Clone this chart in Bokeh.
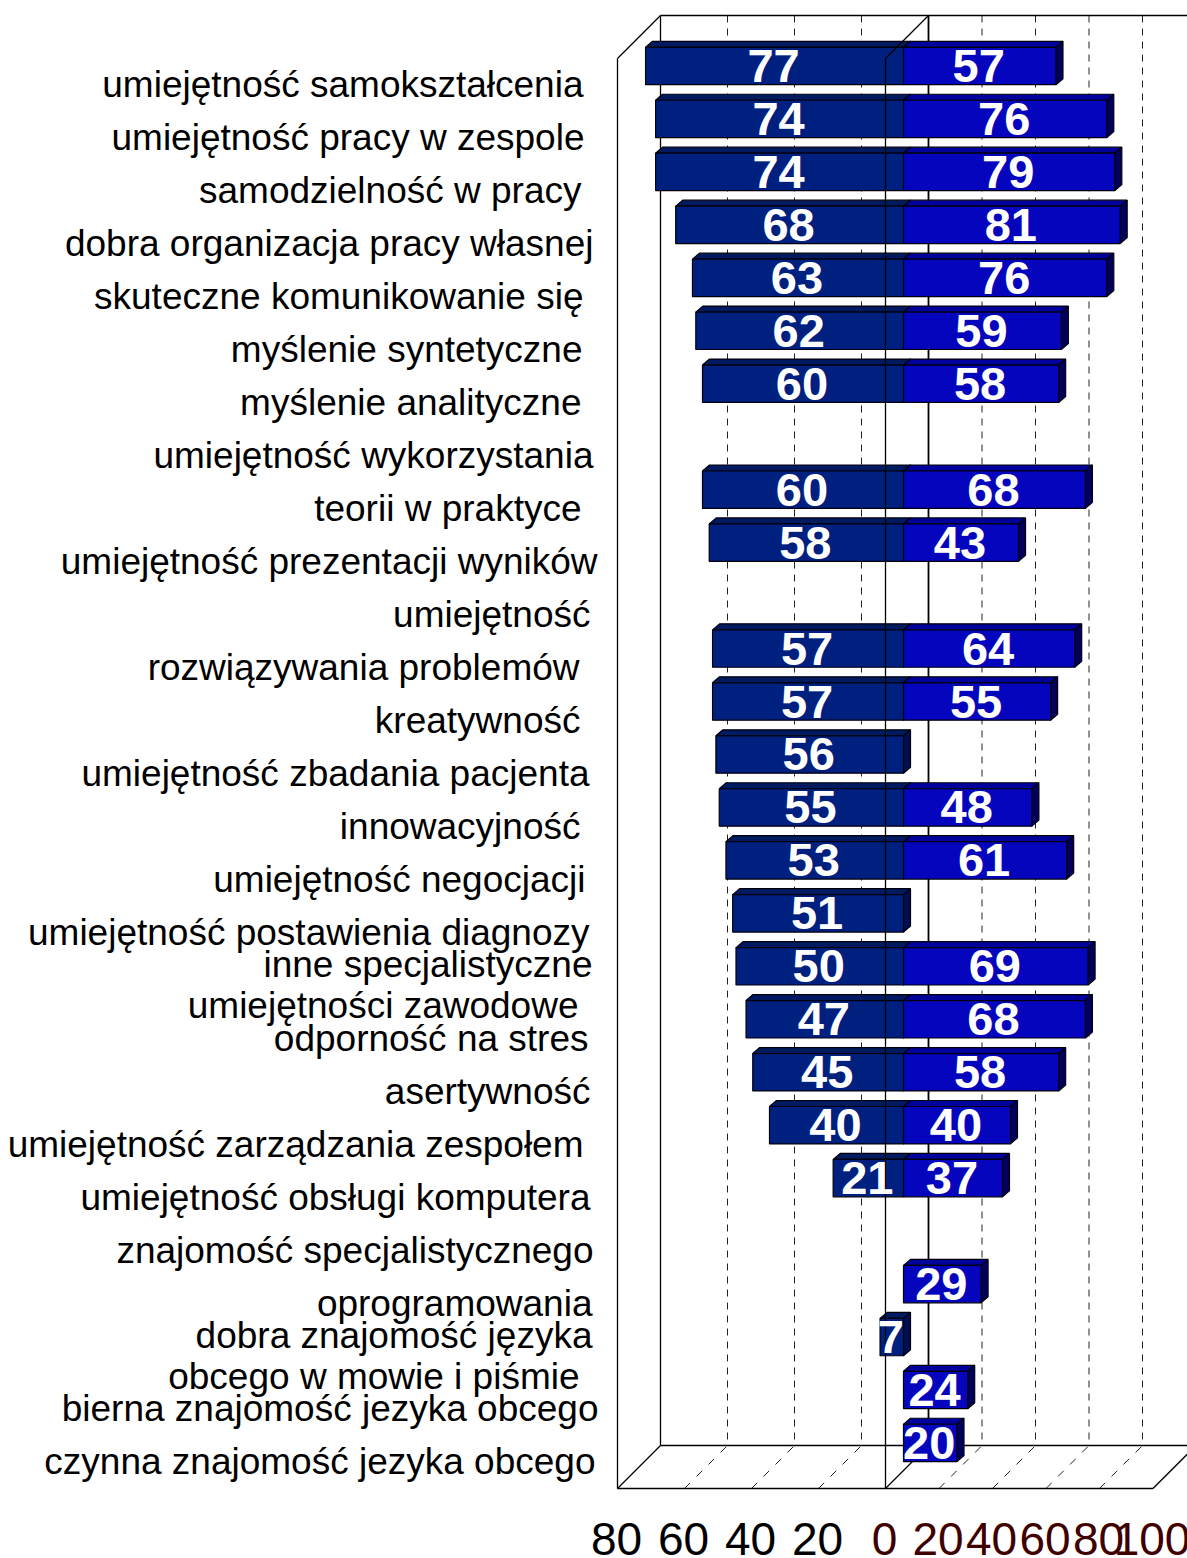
from bokeh.plotting import figure
from bokeh.models import Range1d, ColumnDataSource
from bokeh.core.properties import value
from bokeh.embed import file_html
from bokeh.resources import INLINE

# ---- data ----
series_left = [77, 74, 74, 68, 63, 62, 60, None, 60, 58, None, 57, 57, 56, 55, 53, 51, 50, 47, 45, 40, 21, None, None, 7, None, None]
series_right = [57, 76, 79, 81, 76, 59, 58, None, 68, 43, None, 64, 55, None, 48, 61, None, 69, 68, 58, 40, 37, None, 29, None, 24, 20]
ticks_left = [80, 60, 40, 20]
ticks_right = [0, 20, 40, 60, 80, 100]
label_lines = [
    "umiejętność samokształcenia", "umiejętność pracy w zespole", "samodzielność w pracy",
    "dobra organizacja pracy własnej", "skuteczne komunikowanie się", "myślenie syntetyczne",
    "myślenie analityczne", "umiejętność wykorzystania", "teorii w praktyce",
    "umiejętność prezentacji wyników", "umiejętność", "rozwiązywania problemów", "kreatywność",
    "umiejętność zbadania pacjenta", "innowacyjność", "umiejętność negocjacji",
    "umiejętność postawienia diagnozy", "inne specjalistyczne", "umiejętności zawodowe",
    "odporność na stres", "asertywność", "umiejętność zarządzania zespołem",
    "umiejętność obsługi komputera", "znajomość specjalistycznego", "oprogramowania",
    "dobra znajomość języka", "obcego w mowie i piśmie", "bierna znajomość jezyka obcego",
    "czynna znajomość jezyka obcego",
]

# ---- layout (page pixels) ----
label_right = [583, 584, 581, 593, 583, 582, 581, 593, 581, 597, 590, 579, 580, 589, 580, 585, 589, 592, 578, 588, 590, 583, 590, 593, 592, 592, 579, 598, 595]
label_y = [84, 137, 190, 243, 296, 349, 402, 455, 508, 561, 614, 667, 720, 773, 826, 879, 932, 964, 1005, 1038, 1091, 1144, 1197, 1250, 1303, 1335, 1376, 1408, 1461]
X0, X1, Y0, Y1 = 0, 1187, 0, 1558
SL, SR = 3.35, 2.675          # px per unit
BASE = 903                    # bar zero
AXIS = 885                    # front axis zero
ROW0, PITCH = 65.5, 52.96
HALF = 18.7 / PITCH
DX, DY = 7, 6                 # bar depth, px
WALL = 43                     # chart depth, px
FRONT_T, FRONT_B = 58, 1488
FONT = "Liberation Sans"

p = figure(width=X1 - X0, height=Y1 - Y0, output_backend="svg", toolbar_location=None,
           x_range=Range1d(X0, X1), y_range=Range1d(Y1, Y0), min_border=0,
           x_axis_location=None, y_axis_location=None, outline_line_color=None)
p.grid.visible = False
p.extra_x_ranges = {
    "left": Range1d((BASE - X0) / SL, (BASE - X1) / SL),
    "right": Range1d((X0 - BASE) / SR, (X1 - BASE) / SR),
    "axis_left": Range1d((AXIS - X0) / SL, (AXIS - X1) / SL),
    "axis_right": Range1d((X0 - AXIS) / SR, (X1 - AXIS) / SR),
}
p.extra_y_ranges = {"rows": Range1d((Y1 - ROW0) / PITCH, (Y0 - ROW0) / PITCH)}

# ---- chart box behind bars ----
def seg(xa, ya, xb, yb, **kw):
    p.line([xa, xb], [ya, yb], line_color=kw.pop("line_color", "#000000"), line_width=kw.pop("line_width", 1.3), **kw)

seg(617 + WALL, FRONT_T - WALL, X1, FRONT_T - WALL)
seg(617 + WALL, FRONT_B - WALL, X1, FRONT_B - WALL)
seg(617 + WALL, FRONT_T - WALL, 617 + WALL, FRONT_B - WALL)
seg(AXIS + WALL, FRONT_T - WALL, AXIS + WALL, FRONT_B - WALL, line_width=1.8)
seg(617, FRONT_T, 617, FRONT_B)
seg(617, FRONT_T, 617 + WALL, FRONT_T - WALL)
seg(617, FRONT_B, 617 + WALL, FRONT_B - WALL)
seg(617, FRONT_B, AXIS + SR * 100, FRONT_B)
seg(AXIS + SR * 100, FRONT_B, X1 + 8, FRONT_B - (X1 + 8 - AXIS - SR * 100))
seg(AXIS, FRONT_B, AXIS + WALL, FRONT_B - WALL)

grid_x = [AXIS - SL * t for t in ticks_left] + [AXIS + SR * t for t in ticks_right if t > 0]
for gx in grid_x:
    if gx != 617:
        seg(gx + WALL, FRONT_T - WALL, gx + WALL, FRONT_B - WALL, line_color="#222222", line_width=1, line_dash="7 6")
        seg(gx, FRONT_B, gx + WALL, FRONT_B - WALL, line_color="#222222", line_width=1, line_dash="8 9")

# ---- bars ----
def bars(vals, rng, scale, sign, front, top_c, side_c):
    rows = [i for i, v in enumerate(vals) if v is not None]
    vs = [vals[i] for i in rows]
    dx = DX / scale * sign
    dy = DY / PITCH
    kw = dict(x_range_name=rng, y_range_name="rows", line_color="#00000c", line_width=1.2)
    p.patches([[0, v, v + dx, dx] for v in vs],
              [[r - HALF, r - HALF, r - HALF - dy, r - HALF - dy] for r in rows], fill_color=top_c, **kw)
    if sign > 0:
        edge = vs
    else:
        edge = [0] * len(vs)
    p.patches([[e, e + dx, e + dx, e] for e in edge],
              [[r - HALF, r - HALF - dy, r + HALF - dy, r + HALF] for r in rows], fill_color=side_c, **kw)
    p.quad(left=[0] * len(vs), right=vs, top=[r - HALF for r in rows], bottom=[r + HALF for r in rows],
           fill_color=front, **kw)

bars(series_left, "left", SL, -1, "#002080", "#001a60", "#000f50")
bars(series_right, "right", SR, 1, "#0505bd", "#00009c", "#00005c")

# ---- front axis line over the bars ----
seg(AXIS, FRONT_T, AXIS, FRONT_B)
seg(AXIS, FRONT_T, AXIS + WALL, FRONT_T - WALL)

# ---- data labels ----
def data_labels(vals, rng):
    rows = [i for i, v in enumerate(vals) if v is not None]
    vs = [vals[i] for i in rows]
    src = ColumnDataSource(dict(x=[v / 2 for v in vs], y=rows, t=[str(v) for v in vs]))
    p.text("x", "y", text="t", source=src, x_range_name=rng, y_range_name="rows",
           text_font=value(FONT), text_font_style="bold", text_font_size="47px", text_color="#ffffff",
           text_align="center", text_baseline="middle", x_offset=-1)

data_labels(series_left, "left")
data_labels(series_right, "right")

# ---- category text ----
p.text(label_right, label_y, text=label_lines, text_font=value(FONT), text_font_size="37px", text_color="#000000",
       text_align="right", text_baseline="middle")

# ---- axis tick labels ----
tick_y = [1538]
p.text(ticks_left, tick_y * len(ticks_left), text=[str(t) for t in ticks_left], x_range_name="axis_left",
       text_font=value(FONT), text_font_size="46px", text_color="#000000", text_align="center", text_baseline="middle", x_offset=-1)
p.text(ticks_right, tick_y * len(ticks_right), text=[str(t) for t in ticks_right], x_range_name="axis_right",
       text_font=value(FONT), text_font_size="46px", text_color="#400000", text_align="center", text_baseline="middle", x_offset=-1)

open("out.html", "w").write(file_html(p, INLINE))
